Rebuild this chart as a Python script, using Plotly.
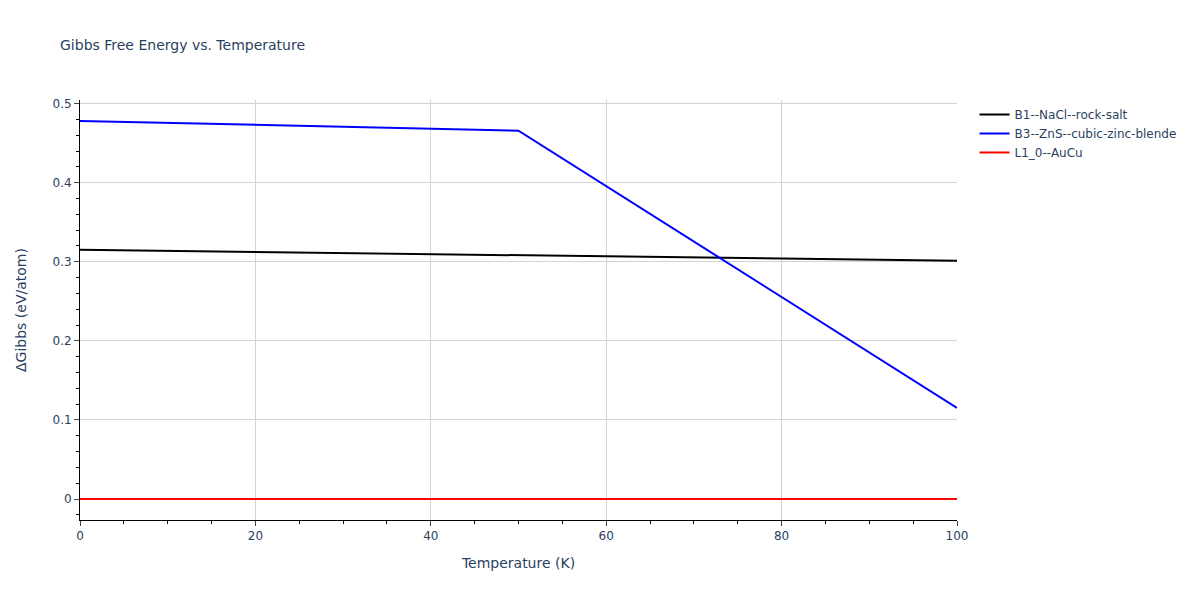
import plotly.graph_objects as go

temperature = [0, 50, 100]
b1_nacl = [0.3152, 0.3080, 0.3013]
b3_zns = [0.4780, 0.4658, 0.1152]
l10_aucu = [0.0, 0.0, 0.0]

names = ["B1--NaCl--rock-salt", "B3--ZnS--cubic-zinc-blende", "L1_0--AuCu"]
colors = ["black", "blue", "red"]
series = [b1_nacl, b3_zns, l10_aucu]

fig = go.Figure()
for name, color, values in zip(names, colors, series):
    fig.add_trace(
        go.Scatter(
            x=temperature,
            y=values,
            mode="lines",
            name=name,
            line=dict(color=color, width=2),
        )
    )

axis_style = dict(
    showline=True,
    linecolor="black",
    ticks="outside",
    gridcolor="lightgray",
    zeroline=False,
    automargin=False,
)

# page body adds an 8px margin, so the figure is made 8px smaller and shifted
fig.update_layout(
    template="plotly_white",
    width=1192,
    height=592,
    font=dict(family="DejaVu Sans", size=12),
    margin=dict(l=72, r=243, t=92, b=80),
    title=dict(
        text="Gibbs Free Energy vs. Temperature",
        font=dict(size=14),
        x=52 / 1192,
        xanchor="left",
        y=1 - 37 / 592,
        yanchor="middle",
        automargin=False,
    ),
    xaxis=dict(
        title="Temperature (K)",
        minor=dict(ticks="outside", dtick=5, tickcolor="black"),
        dtick=20,
        **axis_style,
    ),
    yaxis=dict(
        title=dict(text="ΔGibbs (eV/atom)", standoff=22),
        minor=dict(ticks="outside", dtick=0.02, tickcolor="black"),
        dtick=0.1,
        **axis_style,
    ),
)

fig.write_html("out.html")
